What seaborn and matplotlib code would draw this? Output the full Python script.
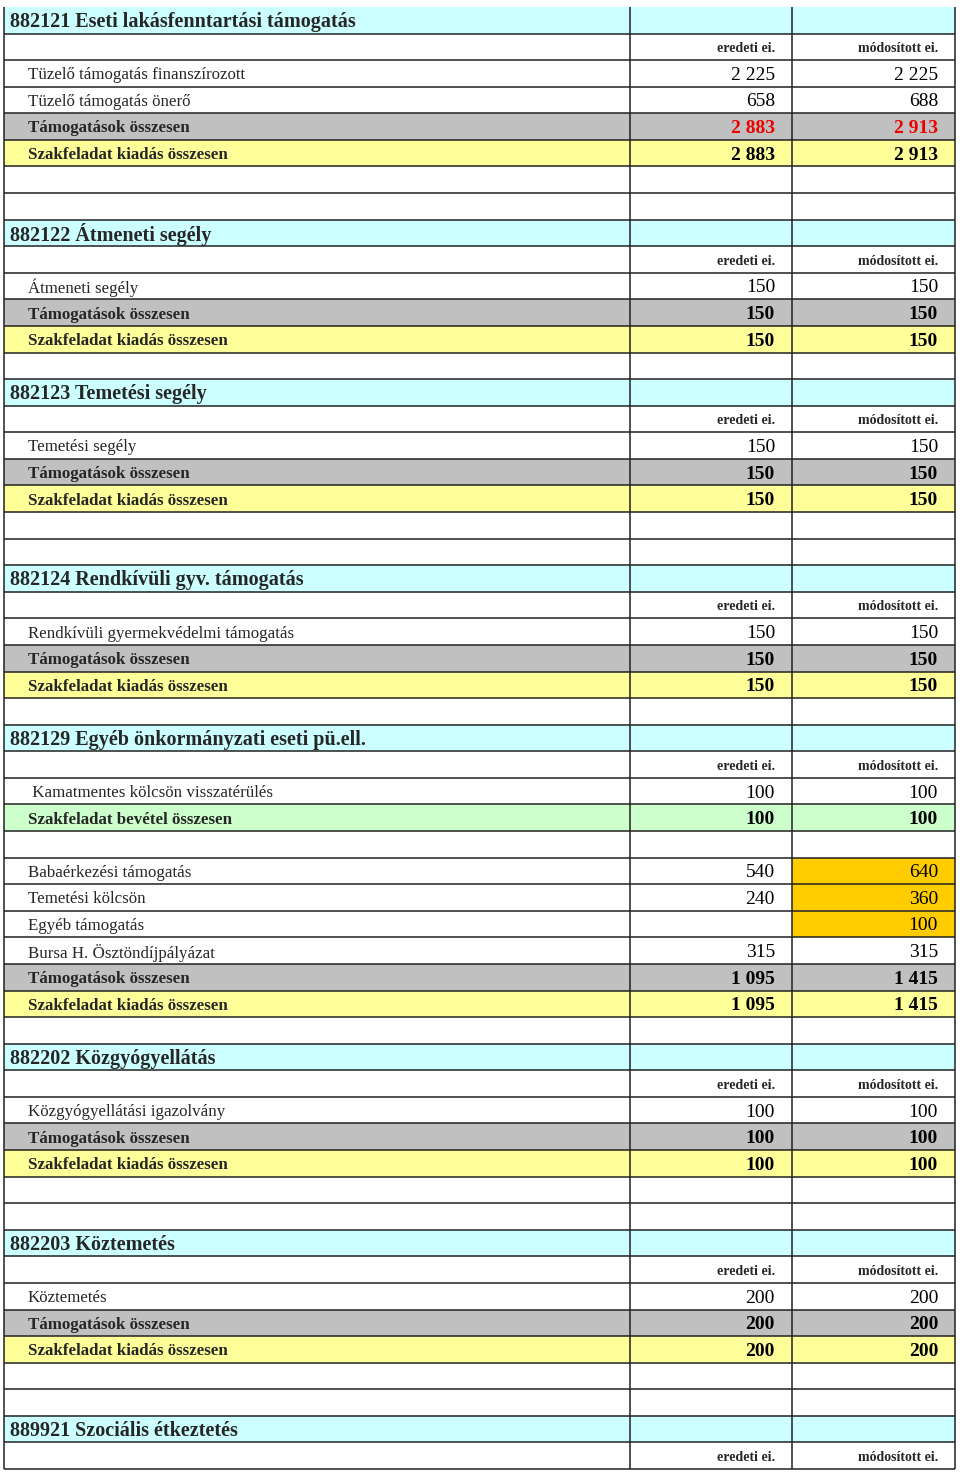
import matplotlib
matplotlib.use("Agg")
import matplotlib.pyplot as plt
import seaborn as sns

sns.set_style("white")
plt.rcParams["font.family"] = ["Liberation Serif", "DejaVu Serif"]

# ---------------------------------------------------------------- table data
kinds = [
    "head", "sub", "item", "item", "tam", "szak", "blank", "blank",
    "head", "sub", "item", "tam", "szak", "blank",
    "head", "sub", "item", "tam", "szak", "blank", "blank",
    "head", "sub", "item", "tam", "szak", "blank",
    "head", "sub", "item", "bev", "blank",
    "item", "item", "item", "item", "tam", "szak", "blank",
    "head", "sub", "item", "tam", "szak", "blank", "blank",
    "head", "sub", "item", "tam", "szak", "blank", "blank",
    "head", "sub",
]
labels = [
    "882121 Eseti lakásfenntartási támogatás", "",
    "Tüzelő támogatás finanszírozott", "Tüzelő támogatás önerő",
    "Támogatások összesen", "Szakfeladat kiadás összesen", "", "",
    "882122 Átmeneti segély", "", "Átmeneti segély",
    "Támogatások összesen", "Szakfeladat kiadás összesen", "",
    "882123 Temetési segély", "", "Temetési segély",
    "Támogatások összesen", "Szakfeladat kiadás összesen", "", "",
    "882124 Rendkívüli gyv. támogatás", "", "Rendkívüli gyermekvédelmi támogatás",
    "Támogatások összesen", "Szakfeladat kiadás összesen", "",
    "882129 Egyéb önkormányzati eseti pü.ell.", "",
    " Kamatmentes kölcsön visszatérülés", "Szakfeladat bevétel összesen", "",
    "Babaérkezési támogatás", "Temetési kölcsön", "Egyéb támogatás",
    "Bursa H. Ösztöndíjpályázat",
    "Támogatások összesen", "Szakfeladat kiadás összesen", "",
    "882202 Közgyógyellátás", "", "Közgyógyellátási igazolvány",
    "Támogatások összesen", "Szakfeladat kiadás összesen", "", "",
    "882203 Köztemetés", "", "Köztemetés",
    "Támogatások összesen", "Szakfeladat kiadás összesen", "", "",
    "889921 Szociális étkeztetés", "",
]
eredeti = [
    None, None, 2225, 658, 2883, 2883, None, None,
    None, None, 150, 150, 150, None,
    None, None, 150, 150, 150, None, None,
    None, None, 150, 150, 150, None,
    None, None, 100, 100, None,
    540, 240, None, 315, 1095, 1095, None,
    None, None, 100, 100, 100, None, None,
    None, None, 200, 200, 200, None, None,
    None, None,
]
modositott = [
    None, None, 2225, 688, 2913, 2913, None, None,
    None, None, 150, 150, 150, None,
    None, None, 150, 150, 150, None, None,
    None, None, 150, 150, 150, None,
    None, None, 100, 100, None,
    640, 360, 100, 315, 1415, 1415, None,
    None, None, 100, 100, 100, None, None,
    None, None, 200, 200, 200, None, None,
    None, None,
]
changed_rows = [32, 33, 34]   # módosított cells marked orange
red_rows = [4]                # totals printed in red
col_heads = ["eredeti ei.", "módosított ei."]

FILL = {"head": "#ccffff", "tam": "#c0c0c0", "szak": "#ffff99",
        "bev": "#ccffcc", "item": "white", "sub": "white", "blank": "white"}
ORANGE = "#ffcc00"
LINE = "#222222"

# column edges in pixels
edges = [4, 630, 792, 955]
n = len(kinds)
top_px, bot_px, H = 7, 1469, 1473
rh = (bot_px - top_px) / n

fig = plt.figure(figsize=(9.6, 14.73), dpi=100)
ax = fig.add_axes([0, 0, 1, 1])
ax.set_xlim(0, 960)
ax.set_ylim(n + (H - bot_px) / rh, -top_px / rh)
ax.axis("off")

rows = list(range(n))
for c in range(3):
    colors = [FILL[k] for k in kinds]
    if c == 2:
        colors = [ORANGE if i in changed_rows else col for i, col in enumerate(colors)]
    ax.barh(rows, edges[c + 1] - edges[c], left=edges[c], height=1,
            align="edge", color=colors, linewidth=0)

# grid
ax.hlines(range(1, n + 1), edges[0], edges[-1], color=LINE, linewidth=1.1)
ax.vlines(edges, 0, n, color=LINE, linewidth=1.1)


def fmt(v):
    return f"{v:,}".replace(",", " ")


for i, k in enumerate(kinds):
    y = i + 0.57
    if k == "head":
        ax.text(10, y, labels[i], fontsize=14.5, fontweight="bold", va="center")
    elif k == "sub":
        ax.text(775, y, col_heads[0], fontsize=10, fontweight="bold", va="center", ha="right")
        ax.text(938, y, col_heads[1], fontsize=10, fontweight="bold", va="center", ha="right")
    elif k != "blank":
        bold = k in ("tam", "szak", "bev")
        w = "bold" if bold else "normal"
        ax.text(28, y, labels[i], fontsize=12.2, fontweight=w, va="center")
        col = "#ee0000" if i in red_rows else "black"
        if eredeti[i] is not None:
            ax.text(775, y, fmt(eredeti[i]), fontsize=14, fontweight=w, va="center",
                    ha="right", color=col)
        if modositott[i] is not None:
            ax.text(938, y, fmt(modositott[i]), fontsize=14, fontweight=w, va="center",
                    ha="right", color=col)

plt.savefig("out.png", dpi=100)
plt.close()
